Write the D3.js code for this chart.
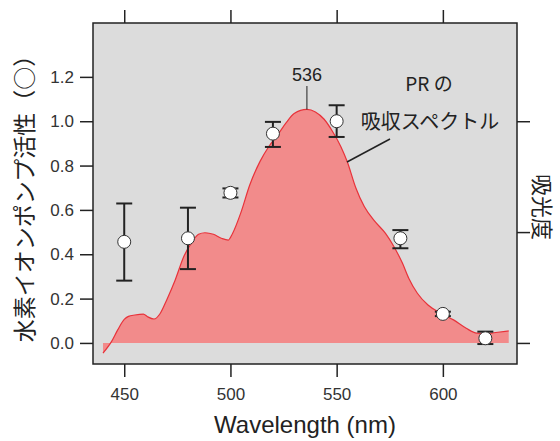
<!DOCTYPE html>
<html>
<head>
<meta charset="utf-8">
<script src="https://cdn.jsdelivr.net/npm/d3@7"></script>
<style>
  body { margin: 0; background: #fff; }
  text { font-family: "Liberation Sans", Arial, "Noto Sans CJK JP", sans-serif; fill: #222; }
  .jp { font-family: "Noto Sans CJK JP", sans-serif; }
  .axis text { font-size: 17px; fill: #333; }
  .axis line { stroke: #222; stroke-width: 1.5; }
</style>
</head>
<body>
<div id="chart"></div>
<script>
// pump activity (left axis, circles with error bars)
var wavelengths = [450, 480, 500, 520, 550, 580, 600, 620];
var activity    = [0.456, 0.472, 0.677, 0.944, 1.0, 0.472, 0.131, 0.021];
var errLow      = [0.281, 0.333, 0.656, 0.884, 0.929, 0.427, 0.121, -0.005];
var errHigh     = [0.629, 0.61, 0.697, 0.997, 1.072, 0.509, 0.141, 0.051];

// PR absorption spectrum
var specWl  = [440, 444, 447, 450, 452, 455, 459, 461, 464, 467, 470, 474, 478, 482, 485, 488, 492, 496, 499, 501,
               505, 509, 514, 518, 522, 526, 530, 536, 540, 544, 548, 552, 555, 559, 563, 568, 573, 577, 581, 584,
               588, 593, 599, 605, 611, 616, 620, 624, 631];
var specAbs = [-0.046, 0.006, 0.06, 0.106, 0.12, 0.126, 0.13, 0.118, 0.108, 0.134, 0.194, 0.284, 0.389, 0.456, 0.49, 0.497, 0.49, 0.471, 0.464, 0.494,
               0.59, 0.71, 0.82, 0.885, 0.935, 0.99, 1.035, 1.053, 1.042, 1.01, 0.955, 0.885, 0.817, 0.70, 0.615, 0.548, 0.494, 0.434, 0.359, 0.291,
               0.224, 0.171, 0.134, 0.104, 0.066, 0.044, 0.042, 0.046, 0.054];

var xTicks = [450, 500, 550, 600];
var yTicks = [0, 0.2, 0.4, 0.6, 0.8, 1.0, 1.2];
var rightTicks = [0, 0.5, 1.0];

var W = 560, H = 441;
var plot = {left: 93, right: 517, top: 23, bottom: 364};

var svg = d3.select("#chart").append("svg")
    .attr("width", W)
    .attr("height", H);

var x = d3.scaleLinear().domain([435.3, 634.9]).range([plot.left, plot.right]);
var y = d3.scaleLinear().domain([-0.095, 1.443]).range([plot.bottom, plot.top]);

// background
svg.append("rect")
    .attr("x", plot.left).attr("y", plot.top)
    .attr("width", plot.right - plot.left).attr("height", plot.bottom - plot.top)
    .attr("fill", "#dcdcdc");

// spectrum
var spec = specWl.map(function(d, i){ return {wl: d, v: specAbs[i]}; });

svg.append("path")
    .datum(spec)
    .attr("fill", "#f28b8b")
    .attr("d", d3.area()
      .curve(d3.curveMonotoneX)
      .x(function(d){ return x(d.wl); })
      .y0(y(0))
      .y1(function(d){ return y(d.v); }));

svg.append("path")
    .datum(spec)
    .attr("fill", "none")
    .attr("stroke", "#e8323a")
    .attr("stroke-width", 1.2)
    .attr("d", d3.line()
      .curve(d3.curveMonotoneX)
      .x(function(d){ return x(d.wl); })
      .y(function(d){ return y(d.v); }));

// error bars
var pts = wavelengths.map(function(d, i){
  return {wl: d, v: activity[i], lo: errLow[i], hi: errHigh[i]};
});

var eb = svg.append("g").attr("stroke", "#222").attr("stroke-width", 2);
pts.forEach(function(d){
  eb.append("line")
    .attr("x1", x(d.wl)).attr("x2", x(d.wl))
    .attr("y1", y(d.lo)).attr("y2", y(d.hi));
  [d.lo, d.hi].forEach(function(v){
    eb.append("line")
      .attr("x1", x(d.wl) - 8).attr("x2", x(d.wl) + 8)
      .attr("y1", y(v)).attr("y2", y(v));
  });
});

svg.append("g").selectAll("circle")
    .data(pts)
  .enter().append("circle")
    .attr("cx", function(d){ return x(d.wl); })
    .attr("cy", function(d){ return y(d.v); })
    .attr("r", 6.5)
    .attr("fill", "#fff")
    .attr("stroke", "#333")
    .attr("stroke-width", 1);

// frame
svg.append("rect")
    .attr("x", plot.left).attr("y", plot.top)
    .attr("width", plot.right - plot.left).attr("height", plot.bottom - plot.top)
    .attr("fill", "none")
    .attr("stroke", "#222")
    .attr("stroke-width", 1.5);

// axes
svg.append("g").attr("class", "axis")
    .attr("transform", "translate(0," + plot.bottom + ")")
    .call(d3.axisBottom(x).tickValues(xTicks).tickSize(13).tickPadding(11).tickFormat(d3.format("d")))
    .call(function(g){ g.select(".domain").remove(); });

svg.append("g").attr("class", "axis")
    .attr("transform", "translate(0," + plot.top + ")")
    .call(d3.axisTop(x).tickValues(xTicks).tickSize(13).tickFormat(""))
    .call(function(g){ g.select(".domain").remove(); });

svg.append("g").attr("class", "axis")
    .attr("transform", "translate(" + plot.left + ",0)")
    .call(d3.axisLeft(y).tickValues(yTicks).tickSize(13).tickPadding(6).tickFormat(d3.format(".1f")))
    .call(function(g){ g.select(".domain").remove(); });

svg.append("g").attr("class", "axis")
    .attr("transform", "translate(" + plot.right + ",0)")
    .call(d3.axisRight(y).tickValues(rightTicks).tickSize(13).tickFormat(""))
    .call(function(g){ g.select(".domain").remove(); });

// axis titles
svg.append("text")
    .attr("x", (plot.left + plot.right) / 2)
    .attr("y", 433)
    .attr("text-anchor", "middle")
    .style("font-size", "24px")
    .text("Wavelength (nm)");

svg.append("text")
    .attr("class", "jp")
    .attr("transform", "translate(25,193) rotate(-90)")
    .attr("text-anchor", "middle")
    .attr("dy", "0.35em")
    .style("font-size", "23px")
    .text("水素イオンポンプ活性（○）");

svg.append("text")
    .attr("class", "jp")
    .attr("transform", "translate(542,207) rotate(90)")
    .attr("text-anchor", "middle")
    .attr("dy", "0.35em")
    .style("font-size", "22px")
    .text("吸光度");

// peak annotation
var peak = 536;
svg.append("text")
    .attr("x", x(peak))
    .attr("y", 81)
    .attr("text-anchor", "middle")
    .style("font-size", "18px")
    .text(peak);

svg.append("line")
    .attr("x1", x(peak)).attr("x2", x(peak))
    .attr("y1", 86).attr("y2", y(1.053))
    .attr("stroke", "#222").attr("stroke-width", 1);

svg.append("text")
    .attr("class", "jp")
    .attr("x", 429)
    .attr("y", 91)
    .attr("text-anchor", "middle")
    .style("font-size", "19px")
    .text("PR の");

svg.append("text")
    .attr("class", "jp")
    .attr("x", 430)
    .attr("y", 129)
    .attr("text-anchor", "middle")
    .style("font-size", "20px")
    .text("吸収スペクトル");

svg.append("line")
    .attr("x1", 390).attr("y1", 139)
    .attr("x2", 347).attr("y2", 162)
    .attr("stroke", "#222").attr("stroke-width", 1.5);
</script>
</body>
</html>
